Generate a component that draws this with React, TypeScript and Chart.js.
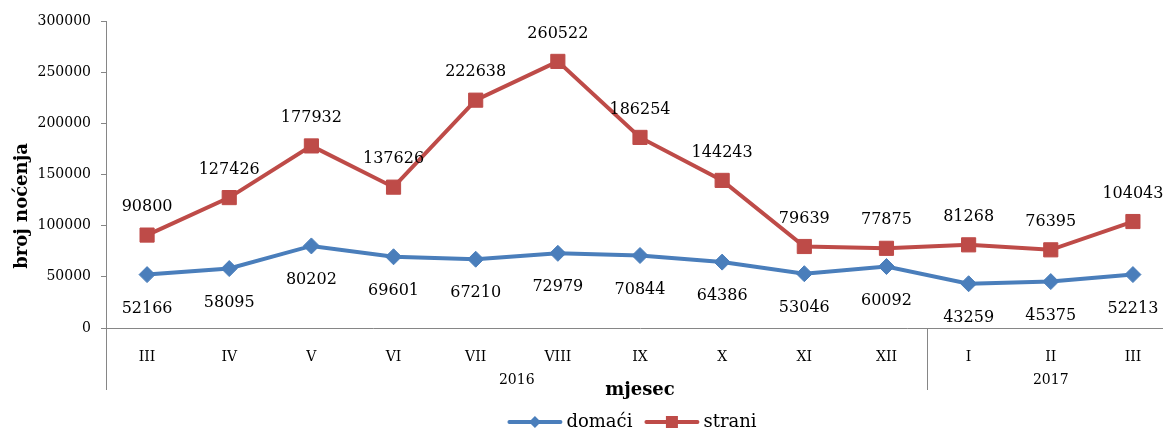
import { useEffect, useRef } from "react";
import { Chart, registerables } from "chart.js";

Chart.register(...registerables);

const months = ["III", "IV", "V", "VI", "VII", "VIII", "IX", "X", "XI", "XII", "I", "II", "III"];
const yearLabels = ["2016", "2017"];
const yearFirst = [0, 10];
const yearLast = [9, 12];

const domaci = [52166, 58095, 80202, 69601, 67210, 72979, 70844, 64386, 53046, 60092, 43259, 45375, 52213];
const strani = [90800, 127426, 177932, 137626, 222638, 260522, 186254, 144243, 79639, 77875, 81268, 76395, 104043];

const yMin = 0;
const yMax = 300000;
const yStep = 50000;

const BLUE = "#4A7EBB";
const RED = "#BE4B48";
const GRAY = "#868686";
const FONT = '"DejaVu Serif", serif';

const labelOffsets = [34, -28];

const extrasPlugin = {
  id: "extras",
  afterDraw(chart: any) {
    const { ctx, chartArea: ca, scales } = chart;
    const xs = scales.x;
    ctx.save();

    // axis extensions and group separators
    ctx.strokeStyle = GRAY;
    ctx.lineWidth = 1;
    const lineBottom = 390;
    const drawV = (px: number) => {
      const ax = Math.floor(px) + 0.5;
      ctx.beginPath();
      ctx.moveTo(ax, ca.bottom);
      ctx.lineTo(ax, lineBottom);
      ctx.stroke();
    };
    drawV(ca.left);
    for (let g = 1; g < yearFirst.length; g++) {
      const a = xs.getPixelForValue(yearFirst[g] - 1);
      const b = xs.getPixelForValue(yearFirst[g]);
      drawV((a + b) / 2);
    }

    // year labels
    ctx.fillStyle = "#000";
    ctx.font = `14px ${FONT}`;
    ctx.textAlign = "center";
    ctx.textBaseline = "middle";
    yearLabels.forEach((lab, g) => {
      const cx = (xs.getPixelForValue(yearFirst[g]) + xs.getPixelForValue(yearLast[g])) / 2;
      ctx.fillText(lab, cx, 380);
    });

    // data labels
    ctx.font = `16px ${FONT}`;
    chart.data.datasets.forEach((ds: any, di: number) => {
      const meta = chart.getDatasetMeta(di);
      meta.data.forEach((pt: any, i: number) => {
        ctx.fillText(String(ds.data[i]), pt.x, pt.y + labelOffsets[di]);
      });
    });

    // y title
    ctx.save();
    ctx.font = `bold 18px ${FONT}`;
    ctx.translate(22, 206);
    ctx.rotate(-Math.PI / 2);
    ctx.fillText("broj noćenja", 0, 0);
    ctx.restore();

    // legend
    ctx.font = `18px ${FONT}`;
    ctx.textAlign = "left";
    const lineLen = 55;
    const gapText = 4;
    const gapItem = 12;
    const items = chart.data.datasets.map((ds: any) => ({
      text: ds.label,
      color: ds.borderColor,
      style: ds.pointStyle,
      w: ctx.measureText(ds.label).width,
    }));
    const total = items.reduce((s: number, it: any) => s + lineLen + gapText + it.w, 0) + gapItem * (items.length - 1);
    let cx = (ca.left + ca.right) / 2 - 8 - total / 2;
    const ly = 422;
    items.forEach((it: any) => {
      ctx.strokeStyle = it.color;
      ctx.lineWidth = 4;
      ctx.lineCap = "round";
      ctx.beginPath();
      ctx.moveTo(cx + 2, ly);
      ctx.lineTo(cx + lineLen - 2, ly);
      ctx.stroke();
      ctx.fillStyle = it.color;
      const mx = cx + lineLen / 2;
      ctx.beginPath();
      if (it.style === "rectRot") {
        const r = 6;
        ctx.moveTo(mx - r, ly);
        ctx.lineTo(mx, ly - r);
        ctx.lineTo(mx + r, ly);
        ctx.lineTo(mx, ly + r);
        ctx.closePath();
      } else {
        const h = 6;
        ctx.rect(mx - h, ly - h, 2 * h, 2 * h);
      }
      ctx.fill();
      ctx.fillStyle = "#000";
      ctx.fillText(it.text, cx + lineLen + gapText, ly);
      cx += lineLen + gapText + it.w + gapItem;
    });

    ctx.restore();
  },
};

export default function App() {
  const ref = useRef<HTMLCanvasElement | null>(null);

  useEffect(() => {
    if (!ref.current) return;
    const chart = new Chart(ref.current, {
      type: "line",
      data: {
        labels: months,
        datasets: [
          {
            label: "domaći",
            data: domaci,
            borderColor: BLUE,
            backgroundColor: BLUE,
            borderWidth: 4,
            pointStyle: "rectRot",
            pointRadius: 8,
            pointBorderWidth: 1,
            pointBackgroundColor: BLUE,
            pointBorderColor: BLUE,
            tension: 0,
          },
          {
            label: "strani",
            data: strani,
            borderColor: RED,
            backgroundColor: RED,
            borderWidth: 4,
            pointStyle: "rect",
            pointRadius: 10,
            pointBorderWidth: 1,
            pointBackgroundColor: RED,
            pointBorderColor: RED,
            tension: 0,
          },
        ],
      },
      options: {
        responsive: false,
        animation: false,
        layout: { padding: { top: 21, left: 0, right: 10, bottom: 0 } },
        plugins: {
          legend: { display: false },
          tooltip: { enabled: false },
        },
        scales: {
          x: {
            type: "category",
            offset: true,
            grid: { display: false },
            border: { display: true, color: GRAY, width: 1 },
            ticks: {
              color: "#000",
              font: { family: FONT, size: 14 },
              padding: 13,
              maxRotation: 0,
              autoSkip: false,
            },
            title: {
              display: true,
              text: "mjesec",
              color: "#000",
              font: { family: FONT, size: 18, weight: "bold" },
              padding: { top: 0, bottom: 32 },
            },
            afterFit: (scale: any) => {
              scale.height = 105;
            },
          },
          y: {
            min: yMin,
            max: yMax,
            grid: {
              display: true,
              drawOnChartArea: false,
              drawTicks: true,
              tickLength: 5,
              color: GRAY,
            },
            border: { display: true, color: GRAY, width: 1 },
            ticks: {
              stepSize: yStep,
              color: "#000",
              font: { family: FONT, size: 14 },
              padding: 10,
              callback: (v: any) => String(v),
            },
            afterFit: (scale: any) => {
              scale.width = 106;
            },
          },
        },
      },
      plugins: [extrasPlugin],
    });
    return () => chart.destroy();
  }, []);

  return (
    <div style={{ position: "fixed", left: 0, top: 0, width: 1163, height: 433, overflow: "hidden", background: "#fff" }}>
      <canvas ref={ref} width={1185} height={433} style={{ display: "block", width: 1185, height: 433 }} />
    </div>
  );
}
